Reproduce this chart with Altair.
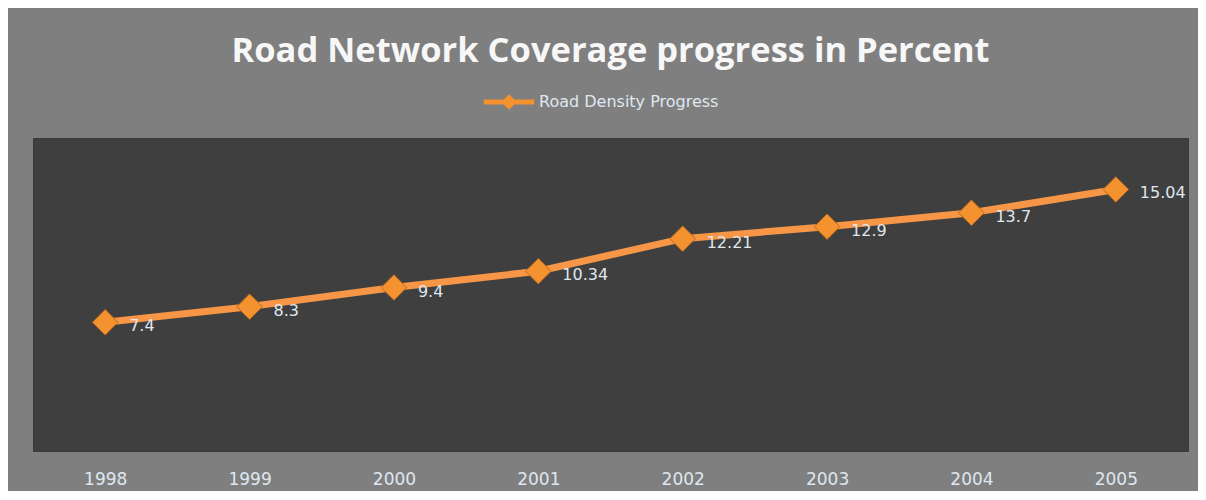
import altair as alt
import pandas as pd

years = ["1998", "1999", "2000", "2001", "2002", "2003", "2004", "2005"]
values = [7.4, 8.3, 9.4, 10.34, 12.21, 12.9, 13.7, 15.04]
labels = ["7.4", "8.3", "9.4", "10.34", "12.21", "12.9", "13.7", "15.04"]
series = "Road Density Progress"

df = pd.DataFrame({"year": years, "value": values, "label": labels, "series": [series] * len(years)})

x = alt.X("year:O", scale=alt.Scale(type="point", padding=0.5),
          axis=alt.Axis(title=None, labelAngle=0, ticks=False, domain=False, grid=False,
                        labelPadding=20, labelFontSize=17, labelFont="DejaVu Sans",
                        labelColor="#dfe7f0"))
y = alt.Y("value:Q", scale=alt.Scale(domain=[0, 18], nice=False, zero=True), axis=None)

base = alt.Chart(df)

line = base.mark_line(color="#f79646", strokeWidth=7).encode(x=x, y=y)

legend_path = ("M -4.2 -0.4 L 4.2 -0.4 L 4.2 0.4 L -4.2 0.4 Z "
               "M -1.3 0 L 0 -1.3 L 1.3 0 L 0 1.3 Z")

points = base.mark_point(shape="diamond", filled=True, size=650, opacity=1,
                         stroke="#c06a1e", strokeWidth=1).encode(
    x=x, y=y,
    color=alt.Color("series:N", scale=alt.Scale(range=["#f3922f"]),
                    legend=alt.Legend(title=None, orient="none", legendX=468, legendY=-44,
                                      symbolType=legend_path, symbolSize=144,
                                      symbolStrokeWidth=0, labelOffset=22, padding=0,
                                      labelLimit=400,
                                      labelFont="DejaVu Sans", labelFontSize=16,
                                      labelColor="#dfe7f0"))
)

text = base.mark_text(align="left", baseline="middle", dx=24, dy=4, fontSize=16,
                      font="DejaVu Sans", color="#dfe7f0").encode(x=x, y=y, text="label:N")

chart = alt.layer(line, points, text).properties(
    width=1155, height=313,
    title=alt.TitleParams("Road Network Coverage progress in Percent", fontSize=34.5,
                          font="Open Sans", fontWeight="bold", color="#f7f7f7",
                          anchor="middle", frame="group", offset=25),
    autosize=alt.AutoSizeParams(type="none"),
    padding={"left": 25, "top": 130, "right": 10, "bottom": 40},
    background="#7f7f7f",
).configure_view(fill="#3f3f3f", stroke="#393939", strokeWidth=1)

chart.save("out.html", embed_options={"renderer": "svg", "actions": False})
